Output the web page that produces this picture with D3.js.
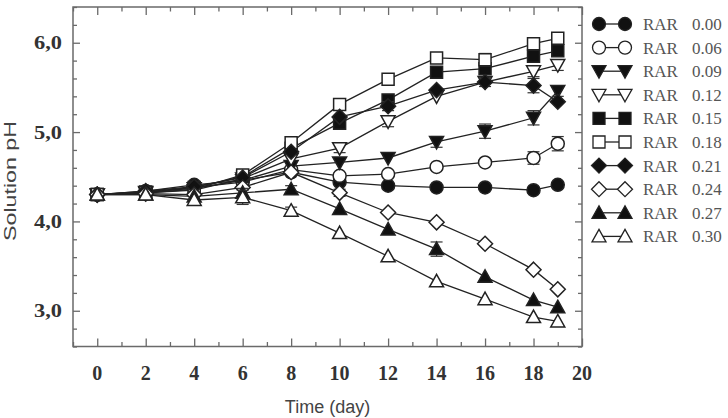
<!DOCTYPE html>
<html>
<head>
<meta charset="utf-8">
<script src="https://cdn.jsdelivr.net/npm/d3@7"></script>
<style>
body{margin:0;background:#fff;}
</style>
</head>
<body>
<svg width="728" height="418"></svg>
<script>
// data
var days = [0, 2, 4, 6, 8, 10, 12, 14, 16, 18, 19];
var rarLabels = ["0.00", "0.06", "0.09", "0.12", "0.15", "0.18", "0.21", "0.24", "0.27", "0.30"];
var ph000 = [4.30, 4.34, 4.41, 4.46, 4.55, 4.44, 4.40, 4.38, 4.38, 4.35, 4.41];
var ph006 = [4.30, 4.32, 4.38, 4.44, 4.58, 4.51, 4.53, 4.61, 4.66, 4.71, 4.87];
var ph009 = [4.30, 4.33, 4.37, 4.46, 4.62, 4.66, 4.71, 4.89, 5.01, 5.16, 5.46];
var ph012 = [4.30, 4.32, 4.35, 4.48, 4.70, 4.82, 5.12, 5.40, 5.56, 5.68, 5.75];
var ph015 = [4.30, 4.33, 4.38, 4.50, 4.82, 5.10, 5.36, 5.67, 5.71, 5.85, 5.91];
var ph018 = [4.30, 4.32, 4.36, 4.52, 4.88, 5.31, 5.59, 5.83, 5.81, 5.99, 6.05];
var ph021 = [4.30, 4.34, 4.39, 4.49, 4.78, 5.17, 5.29, 5.47, 5.56, 5.52, 5.34];
var ph024 = [4.30, 4.31, 4.30, 4.38, 4.55, 4.32, 4.10, 3.99, 3.75, 3.46, 3.24];
var ph027 = [4.30, 4.30, 4.28, 4.32, 4.36, 4.14, 3.91, 3.69, 3.38, 3.12, 3.04];
var ph030 = [4.30, 4.30, 4.24, 4.27, 4.12, 3.87, 3.61, 3.33, 3.13, 2.93, 2.88];
// error bars (sd)
var err000 = [0, 0, 0, 0, 0, 0, 0, 0, 0, 0.03, 0.03];
var err006 = [0, 0, 0, 0, 0, 0.03, 0, 0, 0, 0.07, 0.08];
var err009 = [0, 0, 0, 0, 0, 0, 0, 0.06, 0.08, 0.08, 0.06];
var err012 = [0, 0, 0, 0, 0, 0.05, 0.06, 0, 0, 0.06, 0.06];
var err015 = [0, 0, 0, 0, 0.05, 0, 0, 0.04, 0, 0, 0];
var err018 = [0, 0, 0, 0, 0.05, 0.04, 0.06, 0.03, 0.07, 0.04, 0.05];
var err021 = [0, 0, 0, 0, 0, 0, 0.05, 0, 0.05, 0.08, 0];
var err024 = [0, 0, 0, 0, 0, 0.04, 0, 0, 0, 0, 0];
var err027 = [0, 0, 0, 0.05, 0.04, 0, 0, 0.08, 0, 0, 0];
var err030 = [0, 0, 0, 0.08, 0.04, 0, 0, 0, 0, 0, 0];
var xMajor = [0, 2, 4, 6, 8, 10, 12, 14, 16, 18, 20];
var yMajor = [3, 4, 5, 6];

var markers = ["circle", "circle", "tdown", "tdown", "square", "square", "diamond", "diamond", "tup", "tup"];
var filled = [true, false, true, false, true, false, true, false, true, false];
var phs = [ph000, ph006, ph009, ph012, ph015, ph018, ph021, ph024, ph027, ph030];
var errs = [err000, err006, err009, err012, err015, err018, err021, err024, err027, err030];

var series = rarLabels.map(function(l, i) {
  return {
    label: l, marker: markers[i], filled: filled[i],
    points: days.map(function(d, j) { return {day: d, ph: phs[i][j], err: errs[i][j]}; })
  };
});

function shape(kind) {
  switch (kind) {
    case "circle": return "M6.5,0A6.5,6.5 0 1,1 -6.5,0A6.5,6.5 0 1,1 6.5,0Z";
    case "square": return "M-6,-6H6V6H-6Z";
    case "diamond": return "M0,-7.5L7.5,0L0,7.5L-7.5,0Z";
    case "tup": return "M0,-7L7,5.5L-7,5.5Z";
    case "tdown": return "M0,7L7,-5.5L-7,-5.5Z";
  }
}

var svg = d3.select("svg");
var x = d3.scaleLinear().domain([-1, 20]).range([73, 582]);
var y = d3.scaleLinear().domain([2.6, 6.4]).range([346.5, 7]);

var frameColor = "#6a6a6a";

// minor / major ticks, all pointing inward, on all four sides
var xMinor = d3.range(-1, 21, 1).filter(function(v) { return xMajor.indexOf(v) < 0; });
var yMinor = d3.range(26, 65, 2).map(function(v) { return v / 10; }).filter(function(v) { return yMajor.indexOf(v) < 0; });

function tickAxis(axis, g) {
  g.call(axis);
  g.select(".domain").remove();
  g.selectAll(".tick line").attr("stroke", frameColor).attr("stroke-width", 1.3);
  g.selectAll(".tick text").remove();
}

tickAxis(d3.axisBottom(x).tickValues(xMajor).tickSize(-8), svg.append("g").attr("transform", "translate(0," + y.range()[0] + ")"));
tickAxis(d3.axisBottom(x).tickValues(xMinor).tickSize(-4.5), svg.append("g").attr("transform", "translate(0," + y.range()[0] + ")"));
tickAxis(d3.axisTop(x).tickValues(xMajor).tickSize(-8), svg.append("g").attr("transform", "translate(0," + y.range()[1] + ")"));
tickAxis(d3.axisTop(x).tickValues(xMinor).tickSize(-4.5), svg.append("g").attr("transform", "translate(0," + y.range()[1] + ")"));
tickAxis(d3.axisLeft(y).tickValues(yMajor).tickSize(-7), svg.append("g").attr("transform", "translate(" + x.range()[0] + ",0)"));
tickAxis(d3.axisLeft(y).tickValues(yMinor).tickSize(-4), svg.append("g").attr("transform", "translate(" + x.range()[0] + ",0)"));
tickAxis(d3.axisRight(y).tickValues(yMajor).tickSize(-7), svg.append("g").attr("transform", "translate(" + x.range()[1] + ",0)"));
tickAxis(d3.axisRight(y).tickValues(yMinor).tickSize(-4), svg.append("g").attr("transform", "translate(" + x.range()[1] + ",0)"));

svg.append("rect")
  .attr("x", x.range()[0]).attr("y", y.range()[1])
  .attr("width", x.range()[1] - x.range()[0])
  .attr("height", y.range()[0] - y.range()[1])
  .attr("fill", "none").attr("stroke", frameColor).attr("stroke-width", 1.5);

// tick labels
svg.append("g").selectAll("text").data(xMajor).enter().append("text")
  .attr("x", function(d) { return x(d); })
  .attr("y", 380)
  .attr("text-anchor", "middle")
  .style("font-family", "'Liberation Serif', 'DejaVu Serif', serif")
  .style("font-weight", "bold").style("font-size", "20px").style("fill", "#333")
  .text(function(d) { return d; });

svg.append("g").selectAll("text").data(yMajor).enter().append("text")
  .attr("x", 62)
  .attr("y", function(d) { return y(d) + 6.5; })
  .attr("text-anchor", "end")
  .attr("textLength", 28).attr("lengthAdjust", "spacingAndGlyphs")
  .style("font-family", "'Liberation Serif', 'DejaVu Serif', serif")
  .style("font-weight", "bold").style("font-size", "18px").style("fill", "#333")
  .text(function(d) { return d3.format(".1f")(d).replace(".", ","); });

// axis titles
svg.append("text")
  .attr("x", (x.range()[0] + x.range()[1]) / 2).attr("y", 413)
  .attr("text-anchor", "middle")
  .style("font-family", "'Liberation Sans', Arial, sans-serif")
  .style("font-size", "18px").style("fill", "#444")
  .text("Time (day)");

svg.append("text")
  .attr("transform", "translate(16,181) rotate(-90)")
  .attr("text-anchor", "middle")
  .attr("textLength", 120).attr("lengthAdjust", "spacingAndGlyphs")
  .style("font-family", "'Liberation Sans', Arial, sans-serif")
  .style("font-size", "17px").style("fill", "#444")
  .text("Solution pH");

// lines
var line = d3.line().x(function(d) { return x(d.day); }).y(function(d) { return y(d.ph); });
svg.append("g").selectAll("path").data(series).enter().append("path")
  .attr("d", function(s) { return line(s.points); })
  .attr("fill", "none").attr("stroke", "#222").attr("stroke-width", 1.3);

// error bars and markers
var sg = svg.append("g").selectAll("g").data(series).enter().append("g");
sg.each(function(s) {
  var g = d3.select(this);
  var eb = s.points.filter(function(p) { return p.err > 0; });
  var e = g.selectAll(".eb").data(eb).enter().append("g").attr("class", "eb");
  e.append("line")
    .attr("x1", function(p) { return x(p.day); }).attr("x2", function(p) { return x(p.day); })
    .attr("y1", function(p) { return y(p.ph + p.err); }).attr("y2", function(p) { return y(p.ph - p.err); });
  e.append("line")
    .attr("x1", function(p) { return x(p.day) - 6; }).attr("x2", function(p) { return x(p.day) + 6; })
    .attr("y1", function(p) { return y(p.ph + p.err); }).attr("y2", function(p) { return y(p.ph + p.err); });
  e.append("line")
    .attr("x1", function(p) { return x(p.day) - 6; }).attr("x2", function(p) { return x(p.day) + 6; })
    .attr("y1", function(p) { return y(p.ph - p.err); }).attr("y2", function(p) { return y(p.ph - p.err); });
  e.selectAll("line").attr("stroke", "#333").attr("stroke-width", 1.2);

  g.selectAll(".mk").data(s.points).enter().append("path")
    .attr("class", "mk")
    .attr("transform", function(p) { return "translate(" + x(p.day) + "," + y(p.ph) + ")"; })
    .attr("d", shape(s.marker))
    .attr("fill", s.filled ? "#111" : "#fff")
    .attr("stroke", "#222").attr("stroke-width", 1.5);
});

// legend
var lg = svg.append("g").selectAll("g").data(series).enter().append("g")
  .attr("transform", function(s, i) { return "translate(0," + (24 + i * 23.6) + ")"; });
lg.append("line").attr("x1", 599).attr("x2", 625).attr("stroke", "#222").attr("stroke-width", 1.3);
lg.each(function(s) {
  var g = d3.select(this);
  [599, 625].forEach(function(cx) {
    g.append("path").attr("transform", "translate(" + cx + ",0)")
      .attr("d", shape(s.marker))
      .attr("fill", s.filled ? "#111" : "#fff")
      .attr("stroke", "#222").attr("stroke-width", 1.3);
  });
});
lg.append("text").attr("x", 643).attr("y", 6)
  .style("font-family", "'Liberation Serif', 'DejaVu Serif', serif")
  .style("font-size", "17px").style("fill", "#555")
  .text("RAR");
lg.append("text").attr("x", 692).attr("y", 6)
  .style("font-family", "'Liberation Serif', 'DejaVu Serif', serif")
  .style("font-size", "17px").style("fill", "#555")
  .text(function(s) { return s.label; });
</script>
</body>
</html>
